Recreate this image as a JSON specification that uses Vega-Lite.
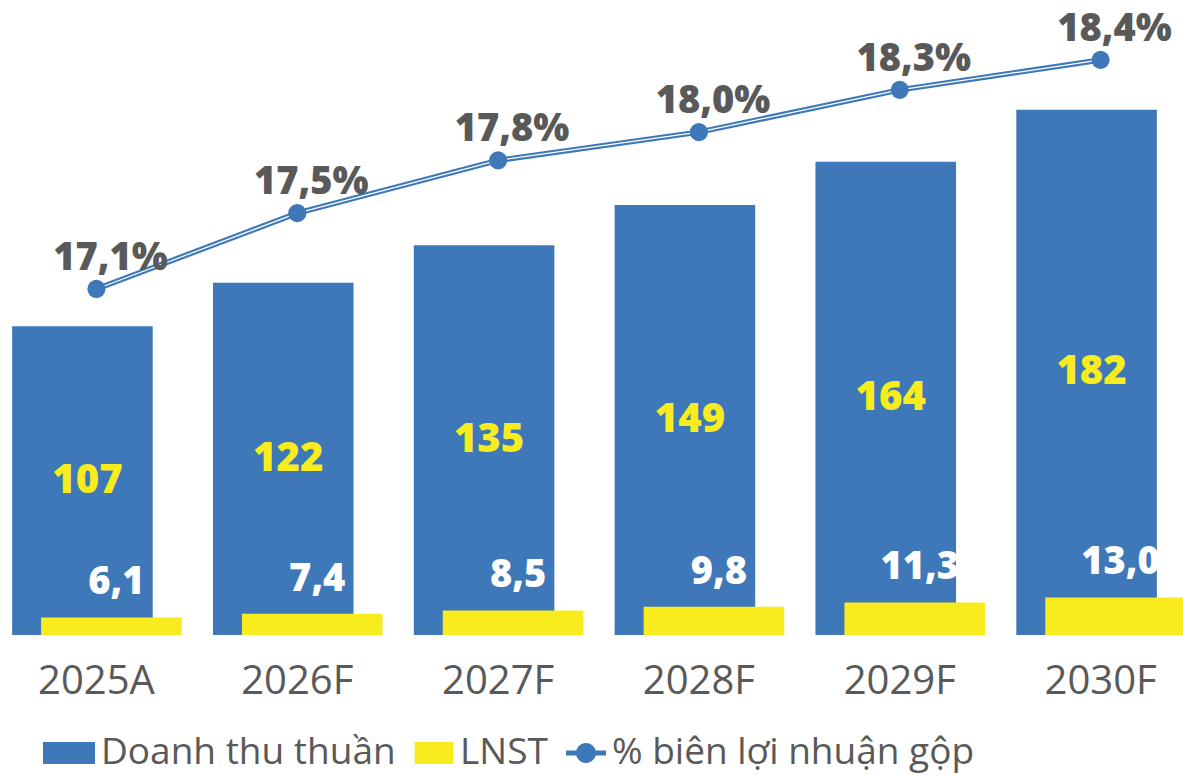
{
  "$schema": "https://vega.github.io/schema/vega-lite/v6.json",
  "width": 1183,
  "height": 635,
  "autosize": {"type": "none"},
  "padding": {"left": 0, "top": 0, "right": 0, "bottom": 140},
  "background": "white",
  "config": {
    "view": {"stroke": null},
    "font": "Open Sans",
    "locale": {"number": {"decimal": ",", "thousands": ".", "grouping": [3], "currency": ["", ""]}}
  },
  "data": {
    "values": [
      {"year": "2025A", "rev": 107, "np": 6.1, "gm": 17.10, "gm_label": "17,1%"},
      {"year": "2026F", "rev": 122, "np": 7.4, "gm": 17.53, "gm_label": "17,5%"},
      {"year": "2027F", "rev": 135, "np": 8.5, "gm": 17.83, "gm_label": "17,8%"},
      {"year": "2028F", "rev": 149, "np": 9.8, "gm": 17.99, "gm_label": "18,0%"},
      {"year": "2029F", "rev": 164, "np": 11.3, "gm": 18.23, "gm_label": "18,3%"},
      {"year": "2030F", "rev": 182, "np": 13.0, "gm": 18.40, "gm_label": "18,4%"}
    ]
  },
  "encoding": {
    "x": {
      "field": "year",
      "type": "nominal",
      "sort": null,
      "scale": {"range": [-4, 1201], "paddingInner": 0, "paddingOuter": 0},
      "axis": {
        "title": null,
        "domain": false,
        "ticks": false,
        "tickSize": 0,
        "labelAngle": 0,
        "labelFont": "Open Sans",
        "labelFontSize": 40,
        "labelColor": "#595959",
        "labelPadding": 26,
        "labelBaseline": "top"
      }
    }
  },
  "layer": [
    {
      "mark": {"type": "bar", "width": {"band": 0.7}, "xOffset": -14},
      "encoding": {
        "y": {"field": "rev", "type": "quantitative", "scale": {"domain": [0, 220], "nice": false}, "axis": null},
        "color": {
          "datum": "Doanh thu thuần",
          "type": "nominal",
          "scale": {
            "domain": ["Doanh thu thuần", "LNST", "% biên lợi nhuận  gộp"],
            "range": ["#3E78B8", "#F8EC1F", "#3E78B8"]
          },
          "legend": {
            "title": null,
            "orient": "none",
            "legendX": 55,
            "legendY": 733,
            "direction": "horizontal",
            "padding": 0,
            "labelFont": "Open Sans",
            "labelFontSize": 37,
            "labelColor": "#595959",
            "labelOffset": 6,
            "labelLimit": 1000,
            "columnPadding": 18,
            "symbolSize": 1600,
            "symbolStrokeWidth": 0,
            "encode": {
              "symbols": {
                "update": {
                  "shape": {"signal": "datum.value === 'LNST' ? 'M-0.97,-0.55H0.97V0.55H-0.97Z' : (datum.value === 'Doanh thu thuần' ? 'M-1.6,-0.55H1V0.55H-1.6Z' : 'M-1,-0.13H1V0.13H-1Z M0.5,0A0.5,0.5 0 1,1 -0.5,0A0.5,0.5 0 1,1 0.5,0Z')"},
                  "fill": {"signal": "datum.value === 'LNST' ? '#F8EC1F' : '#3E78B8'"},
                  "stroke": {"value": "transparent"},
                  "strokeWidth": {"value": 0},
                  "opacity": {"value": 1},
                  "fillOpacity": {"value": 1}
                }
              }
            }
          }
        }
      }
    },
    {
      "mark": {"type": "bar", "width": {"band": 0.7}, "xOffset": 15},
      "encoding": {
        "y": {"field": "np", "type": "quantitative", "scale": {"domain": [0, 220], "nice": false}, "axis": null},
        "color": {"datum": "LNST", "type": "nominal"}
      }
    },
    {
      "mark": {"type": "line", "strokeWidth": 5.5},
      "encoding": {
        "y": {"field": "gm", "type": "quantitative", "scale": {"domain": [15.136, 18.74], "nice": false, "zero": false}, "axis": null},
        "color": {"datum": "% biên lợi nhuận  gộp", "type": "nominal"}
      }
    },
    {
      "mark": {"type": "line", "strokeWidth": 1.2, "color": "white"},
      "encoding": {
        "y": {"field": "gm", "type": "quantitative", "scale": {"domain": [15.136, 18.74], "nice": false, "zero": false}, "axis": null}
      }
    },
    {
      "mark": {"type": "circle", "size": 330, "opacity": 1},
      "encoding": {
        "y": {"field": "gm", "type": "quantitative", "scale": {"domain": [15.136, 18.74], "nice": false, "zero": false}, "axis": null},
        "color": {"datum": "% biên lợi nhuận  gộp", "type": "nominal"}
      }
    },
    {
      "mark": {"type": "text", "font": "Open Sans", "fontSize": 38, "fontWeight": 800, "color": "#595959", "baseline": "alphabetic", "align": "center", "dx": 14, "dy": -19},
      "encoding": {
        "y": {"field": "gm", "type": "quantitative", "scale": {"domain": [15.136, 18.74], "nice": false, "zero": false}, "axis": null},
        "text": {"field": "gm_label"}
      }
    },
    {
      "mark": {"type": "text", "font": "Open Sans", "fontSize": 40, "fontWeight": 800, "color": "#F8EC1F", "baseline": "middle", "align": "center", "dx": -9},
      "encoding": {
        "y": {"field": "rev", "type": "quantitative", "scale": {"domain": [0, 440], "nice": false}, "axis": null},
        "text": {"field": "rev", "type": "quantitative", "format": "d"}
      }
    },
    {
      "mark": {"type": "text", "font": "Open Sans", "fontSize": 38, "fontWeight": 800, "color": "white", "baseline": "alphabetic", "align": "center", "dx": 20, "dy": -23},
      "encoding": {
        "y": {"field": "np", "type": "quantitative", "scale": {"domain": [0, 220], "nice": false}, "axis": null},
        "text": {"field": "np", "type": "quantitative", "format": ".1f"}
      }
    }
  ],
  "resolve": {"scale": {"y": "independent"}}
}
